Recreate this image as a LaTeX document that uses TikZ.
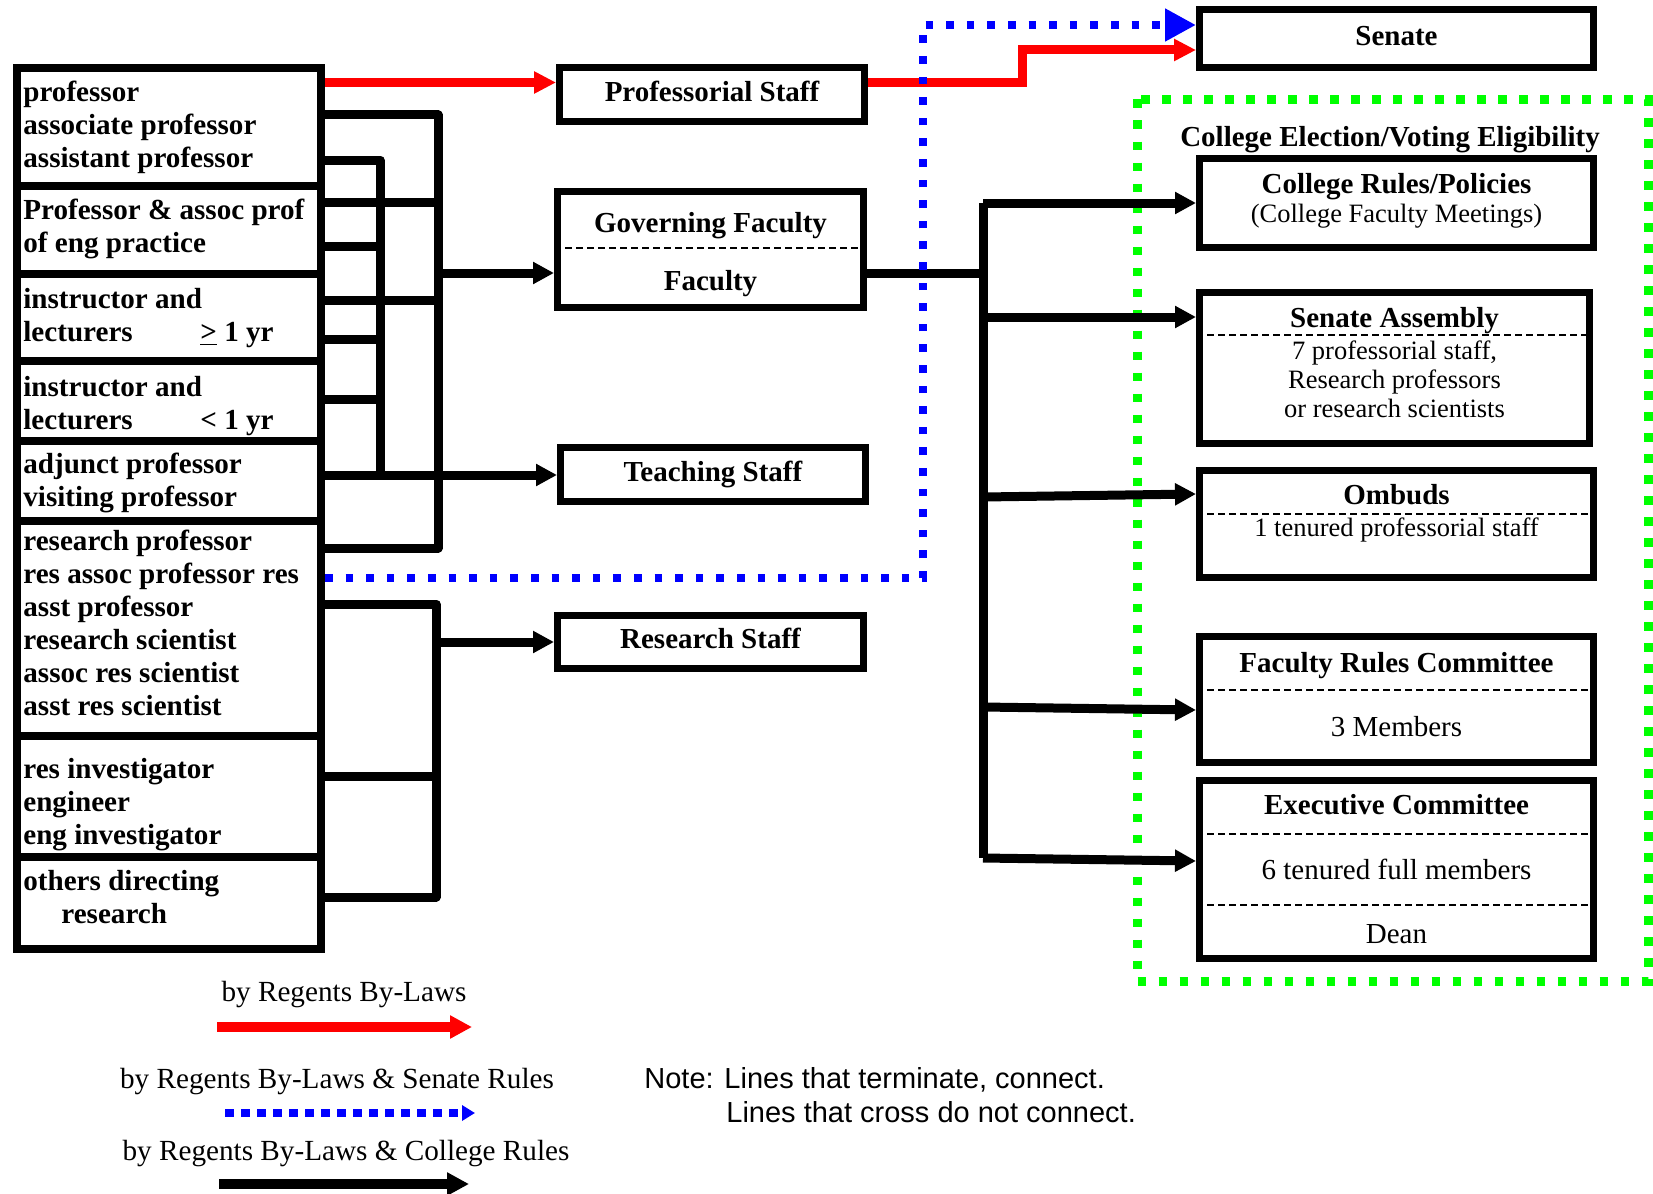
\documentclass[tikz,border=0pt]{standalone}
\usepackage{fontspec}
\setmainfont{Liberation Serif}
\setsansfont{Liberation Sans}
\usetikzlibrary{arrows.meta}
\definecolor{CRed}{HTML}{FF0000}
\definecolor{CBlue}{HTML}{0000FF}
\definecolor{CGreen}{HTML}{00FF00}

\begin{document}
\begin{tikzpicture}[x=0.5pt, y=-0.5pt,
    rankbox/.style={draw, line width=4pt, minimum width=152pt, inner sep=0pt},
    ranktext/.style={anchor=west, inner sep=0pt, align=left,
        font=\bfseries\fontsize{14.55}{16.5}\selectfont},
    unitbox/.style={draw, line width=3.5pt, inner sep=0pt, text height=10pt,
        text depth=3.2pt, font=\bfseries\fontsize{14.5}{16}\selectfont},
    boxhead/.style={anchor=base, inner sep=0pt, font=\bfseries\fontsize{14.5}{16}\selectfont},
    boxdetail/.style={anchor=base, inner sep=0pt, font=\fontsize{13.25}{14.25}\selectfont},
    boxmember/.style={anchor=base, inner sep=0pt, font=\fontsize{14.5}{16}\selectfont},
    legendtext/.style={anchor=base, inner sep=0pt, font=\fontsize{14.6}{17}\selectfont},
    notetext/.style={anchor=base west, inner sep=0pt, font=\sffamily\fontsize{14.5}{17}\selectfont},
    divider/.style={line width=1pt, dash pattern=on 3.5pt off 2pt},
    wire/.style={line width=4.5pt, line join=round},
    feedarrow/.style={wire, -{Triangle[length=10.5pt, width=10.5pt]}},
    bylaw/.style={CRed, line width=4.5pt, -{Triangle[length=11pt, width=10.5pt]}},
    senaterule/.style={CBlue, line width=4pt, dash pattern=on 3.8pt off 6.5pt,
        -{Triangle[length=15.5pt, width=15.5pt]}},
    collegeframe/.style={CGreen, line width=4.5pt, dash pattern=on 4.3pt off 6.2pt},
]
    \useasboundingbox (0,0) rectangle (1653,1193);

    % College election frame
    \draw[collegeframe] (1137,99.5) rectangle (1648,981);
    \node[boxhead] (eligtitle) at (1390,147) {College Election/Voting Eligibility};

    % Staff ranks
    \node[rankbox, minimum height=59pt] (prof) at (169,127) {};
    \node[rankbox, minimum height=44pt] (engprac) at (169,230) {};
    \node[rankbox, minimum height=43.5pt] (instlong) at (169,317.5) {};
    \node[rankbox, minimum height=40pt] (instshort) at (169,401) {};
    \node[rankbox, minimum height=40pt] (adjunct) at (169,481) {};
    \node[rankbox, minimum height=107.5pt] (resprof) at (169,628.5) {};
    \node[rankbox, minimum height=60.5pt] (resinv) at (169,796.5) {};
    \node[rankbox, minimum height=46pt] (others) at (169,903) {};

    \node[ranktext] (prof-text) at ([xshift=5pt]prof.west) {professor\\associate professor\\assistant professor};
    \node[ranktext] (engprac-text) at ([xshift=5pt, yshift=0.5pt]engprac.west) {Professor \& assoc prof\\of eng practice};
    \node[ranktext] (instlong-text) at ([xshift=5pt, yshift=-0.5pt]instlong.west) {instructor and\\\makebox[88.5pt][l]{lecturers}\underline{>} 1 yr};
    \node[ranktext] (instshort-text) at ([xshift=5pt, yshift=-2.4pt]instshort.west) {instructor and\\\makebox[88.5pt][l]{lecturers}< 1 yr};
    \node[ranktext] (adjunct-text) at ([xshift=5pt, yshift=-1pt]adjunct.west) {adjunct professor\\visiting professor};
    \node[ranktext] (resprof-text) at ([xshift=5pt, yshift=2.6pt]resprof.west) {research professor\\res assoc professor res\\asst professor\\research scientist\\assoc res scientist\\asst res scientist};
    \node[ranktext] (resinv-text) at ([xshift=5pt, yshift=-4pt]resinv.west) {res investigator\\engineer\\eng investigator};
    \node[ranktext] (others-text) at ([xshift=5pt, yshift=2.9pt]others.west) {others directing\\\hspace*{19pt}research};

    % Staff groups
    \node[unitbox, minimum width=152.5pt, minimum height=27pt] (profstaff) at (712,95) {Professorial Staff};
    \node[unitbox, minimum width=153pt, minimum height=58pt] (govfac) at (710.5,249) {};
    \node[boxhead] (govfac-top) at (710.5,232) {Governing Faculty};
    \node[boxhead] (govfac-bot) at (710.5,290) {Faculty};
    \draw[divider] (govfac.west |- 0,248) -- (govfac.east |- 0,248);
    \node[unitbox, minimum width=152.5pt, minimum height=27pt] (teachstaff) at (713,474.5) {Teaching Staff};
    \node[unitbox, minimum width=153pt, minimum height=26.5pt] (resstaff) at (710.5,642) {Research Staff};

    % Senate and college bodies
    \node[unitbox, minimum width=197pt, minimum height=29pt] (senate) at (1396.5,38.5) {Senate};

    \node[unitbox, minimum width=197pt, minimum height=44.5pt] (colrules) at (1396.5,203) {};
    \node[boxhead] (colrules-top) at (1396.5,193) {College Rules/Policies};
    \node[boxdetail] (colrules-sub) at (1396.5,222) {(College Faculty Meetings)};

    \node[unitbox, minimum width=195pt, minimum height=75.5pt] (senassembly) at (1394.5,368) {};
    \node[boxhead] (senassembly-top) at (1394.5,327) {Senate Assembly};
    \draw[divider] (senassembly.west |- 0,335) -- (senassembly.east |- 0,335);
    \node[boxdetail] (senassembly-l1) at (1394.5,359) {7 professorial staff,};
    \node[boxdetail] (senassembly-l2) at (1394.5,388) {Research professors};
    \node[boxdetail] (senassembly-l3) at (1394.5,417) {or research scientists};

    \node[unitbox, minimum width=197pt, minimum height=53.5pt] (ombuds) at (1396.5,524) {};
    \node[boxhead] (ombuds-top) at (1396.5,504) {Ombuds};
    \draw[divider] (ombuds.west |- 0,514) -- (ombuds.east |- 0,514);
    \node[boxdetail] (ombuds-sub) at (1396.5,536) {1 tenured professorial staff};

    \node[unitbox, minimum width=197pt, minimum height=63pt] (facrules) at (1396.5,699.5) {};
    \node[boxhead] (facrules-top) at (1396.5,672) {Faculty Rules Committee};
    \draw[divider] (facrules.west |- 0,690) -- (facrules.east |- 0,690);
    \node[boxmember] (facrules-sub) at (1396.5,736) {3 Members};

    \node[unitbox, minimum width=197pt, minimum height=89pt] (execcom) at (1396.5,869.5) {};
    \node[boxhead] (execcom-top) at (1396.5,814) {Executive Committee};
    \draw[divider] (execcom.west |- 0,834) -- (execcom.east |- 0,834);
    \node[boxmember] (execcom-sub) at (1396.5,879) {6 tenured full members};
    \draw[divider] (execcom.west |- 0,905) -- (execcom.east |- 0,905);
    \node[boxmember] (execcom-dean) at (1396.5,943) {Dean};

    % Bends
    \coordinate (outerA) at (438,115);
    \coordinate (outerB) at (438,548);
    \coordinate (innerA) at (380,160);
    \coordinate (innerB) at (380,475);
    \coordinate (resA) at (436,604);
    \coordinate (resB) at (436,897);
    \coordinate (spineA) at (983,203);
    \coordinate (spineB) at (983,858);
    \coordinate (redbend) at (1022,50);
    \coordinate (bluebend) at (923,25);

    % To governing faculty
    \draw[wire] (prof.east |- outerA) -- (outerA) -- (outerB) -- (resprof.east |- outerB);
    \draw[wire] (engprac.east |- 0,202) -- (outerA |- 0,202);
    \draw[wire] (instlong.east |- 0,300) -- (outerA |- 0,300);
    \draw[feedarrow] (outerA |- 0,273) -- (govfac.west |- 0,273);

    % To teaching staff
    \draw[wire] (prof.east |- innerA) -- (innerA) -- (innerB);
    \draw[wire] (engprac.east |- 0,246) -- (innerA |- 0,246);
    \draw[wire] (instlong.east |- 0,339) -- (innerA |- 0,339);
    \draw[wire] (instshort.east |- 0,399) -- (innerA |- 0,399);
    \draw[feedarrow] (adjunct.east |- innerB) -- (teachstaff.west |- innerB);

    % To research staff
    \draw[wire] (resprof.east |- resA) -- (resA) -- (resB) -- (others.east |- resB);
    \draw[wire] (resinv.east |- 0,776) -- (resA |- 0,776);
    \draw[feedarrow] (resA |- 0,642) -- (resstaff.west |- 0,642);

    % Faculty to college bodies
    \draw[wire] (govfac.east |- 0,273) -- (spineA |- 0,273);
    \draw[wire] (spineA) -- (spineB);
    \draw[feedarrow] (spineA) -- (colrules.west |- spineA);
    \draw[feedarrow] (spineA |- 0,317) -- (senassembly.west |- 0,317);
    \draw[feedarrow] (spineA |- 0,497) -- (ombuds.west |- 0,494);
    \draw[feedarrow] (spineA |- 0,707) -- (facrules.west |- 0,710);
    \draw[feedarrow] (spineB) -- (execcom.west |- 0,861);

    % Regents by-laws
    \draw[bylaw] (prof.east |- 0,82.5) -- (profstaff.west |- 0,82.5);
    \draw[bylaw] (profstaff.east |- 0,82.5) -| (redbend) -- (senate.west |- redbend);

    % Senate rules
    \draw[senaterule] (resprof.east |- 0,578) -| (bluebend) -- (senate.west |- bluebend);

    % Legend
    \node[legendtext] (lawtext) at (344,1001) {by Regents By-Laws};
    \coordinate (lawA) at (217,1027);
    \coordinate (lawB) at (472,1027);
    \draw[bylaw, line width=5pt, -{Triangle[length=11pt, width=11pt]}] (lawA) -- (lawB);

    \node[legendtext] (sentext) at (337,1088) {by Regents By-Laws \& Senate Rules};
    \coordinate (senA) at (225,1113);
    \coordinate (senB) at (475,1113);
    \draw[senaterule, dash pattern=on 4.5pt off 3.5pt, -{Triangle[length=6.5pt, width=7.5pt]}] (senA) -- (senB);

    \node[legendtext] (coltext) at (346,1160) {by Regents By-Laws \& College Rules};
    \coordinate (colA) at (219,1184);
    \coordinate (colB) at (469,1184);
    \draw[feedarrow, line width=5pt, -{Triangle[length=11pt, width=11pt]}] (colA) -- (colB);

    \node[notetext] (note1) at (644,1088) {Note: Lines that terminate, connect.};
    \node[notetext] (note2) at (726,1122) {Lines that cross do not connect.};
\end{tikzpicture}
\end{document}
